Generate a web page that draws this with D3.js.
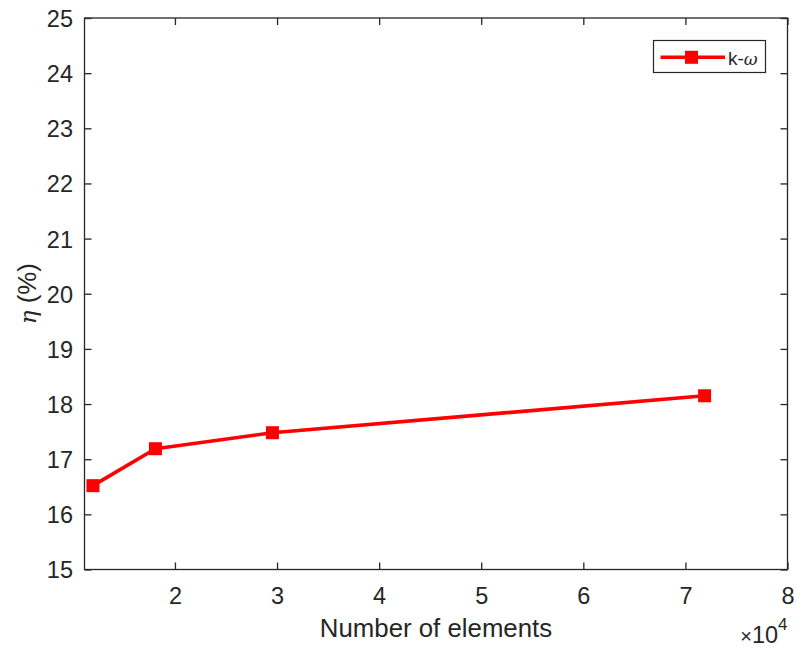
<!DOCTYPE html>
<html><head><meta charset="utf-8">
<script src="https://cdn.jsdelivr.net/npm/d3@7"></script>
<style>body{margin:0;background:#fff;} text{font-family:"Liberation Sans",Arial,sans-serif;fill:#262626;}</style>
</head><body>
<svg id="c" width="797" height="648"></svg>
<script>
const elements = [11970, 18090, 29550, 71880];
const eta = [16.52, 17.19, 17.48, 18.15];
const xTicks = [20000, 30000, 40000, 50000, 60000, 70000, 80000];
const xTickLabels = ["2","3","4","5","6","7","8"];
const yTicks = [15,16,17,18,19,20,21,22,23,24,25];
const seriesName = "k-";

const svg = d3.select("#c");
const L = 84.5, R = 787.5, T = 18, B = 569.5;
const x = d3.scaleLinear().domain([11140, 80000]).range([L, R]);
const y = d3.scaleLinear().domain([15, 25]).range([B, T]);
const col = "#262626";
const tickFont = "23.5px";

// frame
svg.append("rect").attr("x", L).attr("y", T).attr("width", R-L).attr("height", B-T)
  .attr("fill", "none").attr("stroke", col).attr("stroke-width", 1.3);

// axes
const ax = d3.axisBottom(x).tickValues(xTicks).tickFormat((d,i)=>xTickLabels[i]).tickSizeInner(-7).tickSizeOuter(0).tickPadding(18);
const gx = svg.append("g").attr("transform", `translate(0,${B})`).call(ax);
const axT = d3.axisTop(x).tickValues(xTicks).tickFormat("").tickSizeInner(-7).tickSizeOuter(0);
const gxt = svg.append("g").attr("transform", `translate(0,${T})`).call(axT);
const ay = d3.axisLeft(y).tickValues(yTicks).tickFormat(d3.format("d")).tickSizeInner(-7).tickSizeOuter(0).tickPadding(11.5);
const gy = svg.append("g").attr("transform", `translate(${L},0)`).call(ay);
const ayR = d3.axisRight(y).tickValues(yTicks).tickFormat("").tickSizeInner(-7).tickSizeOuter(0);
const gyr = svg.append("g").attr("transform", `translate(${R},0)`).call(ayR);
[gx,gxt,gy,gyr].forEach(g=>{
  g.select(".domain").remove();
  g.selectAll(".tick line").attr("stroke", col).attr("stroke-width", 1.3);
  g.selectAll(".tick text").attr("fill", col).style("font-size",tickFont).style("font-family","Liberation Sans, Arial, sans-serif");
});
gy.selectAll(".tick text").attr("dy","0.36em");

// line
const pts = elements.map((e,i)=>[e, eta[i]]);
svg.append("path").datum(pts).attr("fill","none").attr("stroke","#ff0000").attr("stroke-width",3.6)
  .attr("stroke-linejoin","round")
  .attr("d", d3.line().x(d=>x(d[0])).y(d=>y(d[1])));
const ms = 13;
svg.selectAll("rect.m").data(pts).join("rect").attr("class","m")
  .attr("x", d=>x(d[0])-ms/2).attr("y", d=>y(d[1])-ms/2).attr("width", ms).attr("height", ms)
  .attr("fill","#ff0000");

// legend
const lg = svg.append("g");
lg.append("rect").attr("x",653.5).attr("y",40.5).attr("width",112).attr("height",32)
  .attr("fill","#fff").attr("stroke",col).attr("stroke-width",1.2);
lg.append("line").attr("x1",660.5).attr("x2",725).attr("y1",57.3).attr("y2",57.3).attr("stroke","#ff0000").attr("stroke-width",3.6);
lg.append("rect").attr("x",691.5-ms/2).attr("y",57.3-ms/2).attr("width",ms).attr("height",ms).attr("fill","#ff0000");
const lt = lg.append("text").attr("x",728).attr("y",65).style("font-size","19px");
lt.append("tspan").text(seriesName);
lt.append("tspan").text("ω").style("font-style","italic").style("font-family","DejaVu Serif, serif").style("font-size","17px");

// axis labels
svg.append("text").attr("x",(L+R)/2).attr("y",637).attr("text-anchor","middle").style("font-size","25.8px").text("Number of elements");
const yl = svg.append("text").attr("transform",`translate(36,${(T+B)/2}) rotate(-90)`).attr("text-anchor","middle").style("font-size","25.8px");
yl.append("tspan").text("η").style("font-style","italic").style("font-family","DejaVu Serif, serif").style("font-size","23px");
yl.append("tspan").text(" (%)");

// exponent
const ex = svg.append("text").attr("x",787.5).attr("y",643).attr("text-anchor","end").style("font-size","23.5px");
ex.append("tspan").text("×").style("font-size","20px");
ex.append("tspan").text("10");
ex.append("tspan").text("4").attr("dy",-13).style("font-size","17px");
</script>
</body></html>
